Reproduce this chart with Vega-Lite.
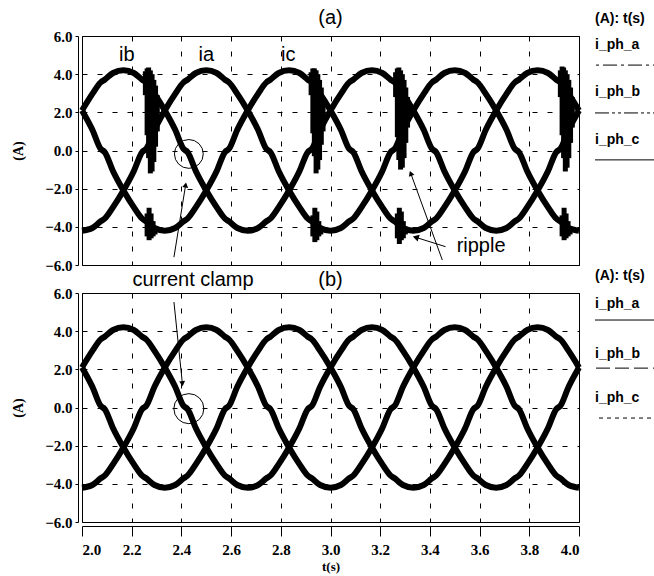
{
  "$schema": "https://vega.github.io/schema/vega-lite/v6.json",
  "background": "white",
  "padding": {"left": 11, "top": 7, "right": 0, "bottom": 0},
  "config": {
    "view": {"stroke": "black", "strokeWidth": 1},
    "font": "Liberation Sans"
  },
  "datasets": {
    "wave": [
      {"t": 2.0000, "a": -4.2, "b": 2.10, "c": 2.10},
      {"t": 2.0417, "a": -4.06, "b": 2.97, "c": 1.09},
      {"t": 2.0753, "a": -3.71, "b": 3.57, "c": 0.08},
      {"t": 2.0913, "a": -3.57, "b": 3.71, "c": -0.08},
      {"t": 2.1250, "a": -2.97, "b": 4.06, "c": -1.09},
      {"t": 2.1667, "a": -2.10, "b": 4.2, "c": -2.10},
      {"t": 2.2083, "a": -1.09, "b": 4.06, "c": -2.97},
      {"t": 2.2420, "a": -0.08, "b": 3.71, "c": -3.57},
      {"t": 2.2580, "a": 0.08, "b": 3.57, "c": -3.71},
      {"t": 2.2917, "a": 1.09, "b": 2.97, "c": -4.06},
      {"t": 2.3333, "a": 2.10, "b": 2.10, "c": -4.2},
      {"t": 2.3750, "a": 2.97, "b": 1.09, "c": -4.06},
      {"t": 2.4087, "a": 3.57, "b": 0.08, "c": -3.71},
      {"t": 2.4247, "a": 3.71, "b": -0.08, "c": -3.57},
      {"t": 2.4583, "a": 4.06, "b": -1.09, "c": -2.97},
      {"t": 2.5000, "a": 4.2, "b": -2.10, "c": -2.10},
      {"t": 2.5417, "a": 4.06, "b": -2.97, "c": -1.09},
      {"t": 2.5753, "a": 3.71, "b": -3.57, "c": -0.08},
      {"t": 2.5913, "a": 3.57, "b": -3.71, "c": 0.08},
      {"t": 2.6250, "a": 2.97, "b": -4.06, "c": 1.09},
      {"t": 2.6667, "a": 2.10, "b": -4.2, "c": 2.10},
      {"t": 2.7083, "a": 1.09, "b": -4.06, "c": 2.97},
      {"t": 2.7420, "a": 0.08, "b": -3.71, "c": 3.57},
      {"t": 2.7580, "a": -0.08, "b": -3.57, "c": 3.71},
      {"t": 2.7917, "a": -1.09, "b": -2.97, "c": 4.06},
      {"t": 2.8333, "a": -2.10, "b": -2.10, "c": 4.2},
      {"t": 2.8750, "a": -2.97, "b": -1.09, "c": 4.06},
      {"t": 2.9087, "a": -3.57, "b": -0.08, "c": 3.71},
      {"t": 2.9247, "a": -3.71, "b": 0.08, "c": 3.57},
      {"t": 2.9583, "a": -4.06, "b": 1.09, "c": 2.97},
      {"t": 3.0000, "a": -4.2, "b": 2.10, "c": 2.10},
      {"t": 3.0417, "a": -4.06, "b": 2.97, "c": 1.09},
      {"t": 3.0753, "a": -3.71, "b": 3.57, "c": 0.08},
      {"t": 3.0913, "a": -3.57, "b": 3.71, "c": -0.08},
      {"t": 3.1250, "a": -2.97, "b": 4.06, "c": -1.09},
      {"t": 3.1667, "a": -2.10, "b": 4.2, "c": -2.10},
      {"t": 3.2083, "a": -1.09, "b": 4.06, "c": -2.97},
      {"t": 3.2420, "a": -0.08, "b": 3.71, "c": -3.57},
      {"t": 3.2580, "a": 0.08, "b": 3.57, "c": -3.71},
      {"t": 3.2917, "a": 1.09, "b": 2.97, "c": -4.06},
      {"t": 3.3333, "a": 2.10, "b": 2.10, "c": -4.2},
      {"t": 3.3750, "a": 2.97, "b": 1.09, "c": -4.06},
      {"t": 3.4087, "a": 3.57, "b": 0.08, "c": -3.71},
      {"t": 3.4247, "a": 3.71, "b": -0.08, "c": -3.57},
      {"t": 3.4583, "a": 4.06, "b": -1.09, "c": -2.97},
      {"t": 3.5000, "a": 4.2, "b": -2.10, "c": -2.10},
      {"t": 3.5417, "a": 4.06, "b": -2.97, "c": -1.09},
      {"t": 3.5753, "a": 3.71, "b": -3.57, "c": -0.08},
      {"t": 3.5913, "a": 3.57, "b": -3.71, "c": 0.08},
      {"t": 3.6250, "a": 2.97, "b": -4.06, "c": 1.09},
      {"t": 3.6667, "a": 2.10, "b": -4.2, "c": 2.10},
      {"t": 3.7083, "a": 1.09, "b": -4.06, "c": 2.97},
      {"t": 3.7420, "a": 0.08, "b": -3.71, "c": 3.57},
      {"t": 3.7580, "a": -0.08, "b": -3.57, "c": 3.71},
      {"t": 3.7917, "a": -1.09, "b": -2.97, "c": 4.06},
      {"t": 3.8333, "a": -2.10, "b": -2.10, "c": 4.2},
      {"t": 3.8750, "a": -2.97, "b": -1.09, "c": 4.06},
      {"t": 3.9087, "a": -3.57, "b": -0.08, "c": 3.71},
      {"t": 3.9247, "a": -3.71, "b": 0.08, "c": 3.57},
      {"t": 3.9583, "a": -4.06, "b": 1.09, "c": 2.97},
      {"t": 4.0000, "a": -4.2, "b": 2.10, "c": 2.10}
    ],
    "ripple": [
      {"t": 2.255, "y": 2.9, "y2": 4.15}, {"t": 2.262, "y": 0.8, "y2": 4.3}, {"t": 2.268, "y": -0.4, "y2": 4.35}, {"t": 2.275, "y": -1.2, "y2": 4.2},
      {"t": 2.282, "y": -1.1, "y2": 4.0}, {"t": 2.289, "y": -0.6, "y2": 3.7}, {"t": 2.296, "y": 0.2, "y2": 3.4}, {"t": 2.303, "y": 1.0, "y2": 2.9},
      {"t": 2.262, "y": -4.5, "y2": -3.3}, {"t": 2.270, "y": -4.7, "y2": -3.0}, {"t": 2.278, "y": -4.6, "y2": -3.3}, {"t": 2.286, "y": -4.5, "y2": -3.7}, {"t": 2.294, "y": -4.4, "y2": -4.0},
      {"t": 2.922, "y": 2.9, "y2": 4.1}, {"t": 2.929, "y": 0.9, "y2": 4.3}, {"t": 2.935, "y": -0.3, "y2": 4.3}, {"t": 2.942, "y": -1.2, "y2": 4.2},
      {"t": 2.949, "y": -1.0, "y2": 4.0}, {"t": 2.956, "y": -0.5, "y2": 3.7}, {"t": 2.963, "y": 0.3, "y2": 3.3}, {"t": 2.970, "y": 1.0, "y2": 2.8},
      {"t": 2.929, "y": -4.5, "y2": -3.4}, {"t": 2.937, "y": -4.8, "y2": -3.0}, {"t": 2.945, "y": -4.7, "y2": -3.2}, {"t": 2.953, "y": -4.5, "y2": -3.7}, {"t": 2.961, "y": -4.4, "y2": -4.0},
      {"t": 3.262, "y": 2.8, "y2": 4.1}, {"t": 3.269, "y": 0.7, "y2": 4.3}, {"t": 3.275, "y": -0.5, "y2": 4.35}, {"t": 3.282, "y": -1.0, "y2": 4.2},
      {"t": 3.289, "y": -0.9, "y2": 4.0}, {"t": 3.296, "y": -0.4, "y2": 3.7}, {"t": 3.303, "y": 0.4, "y2": 3.3}, {"t": 3.310, "y": 1.2, "y2": 2.8},
      {"t": 3.269, "y": -4.6, "y2": -3.3}, {"t": 3.277, "y": -4.9, "y2": -3.0}, {"t": 3.285, "y": -4.7, "y2": -3.2}, {"t": 3.293, "y": -4.6, "y2": -3.7}, {"t": 3.301, "y": -4.4, "y2": -4.0},
      {"t": 3.925, "y": 2.8, "y2": 4.2}, {"t": 3.932, "y": 0.8, "y2": 4.4}, {"t": 3.938, "y": -0.4, "y2": 4.35}, {"t": 3.945, "y": -1.1, "y2": 4.2},
      {"t": 3.952, "y": -0.9, "y2": 4.0}, {"t": 3.959, "y": -0.4, "y2": 3.7}, {"t": 3.966, "y": 0.4, "y2": 3.3}, {"t": 3.973, "y": 1.2, "y2": 2.8},
      {"t": 3.932, "y": -4.5, "y2": -3.4}, {"t": 3.940, "y": -4.7, "y2": -3.0}, {"t": 3.948, "y": -4.6, "y2": -3.3}, {"t": 3.956, "y": -4.5, "y2": -3.7}, {"t": 3.964, "y": -4.4, "y2": -4.0}
    ],
    "notes": [
      {"panel": "a", "text": "ib", "t": 2.18, "y": 5.0},
      {"panel": "a", "text": "ia", "t": 2.5, "y": 5.0},
      {"panel": "a", "text": "ic", "t": 2.83, "y": 5.0},
      {"panel": "a", "text": "ripple", "t": 3.606, "y": -4.98},
      {"panel": "a", "text": "current clamp", "t": 2.447, "y": -6.79}
    ],
    "circles": [
      {"panel": "a", "t": 2.43, "y": -0.18},
      {"panel": "b", "t": 2.43, "y": -0.06}
    ],
    "arrows": [
      {"panel": "a", "t": 2.37, "y": -5.59, "t2": 2.417, "y2": -1.81},
      {"panel": "a", "t": 3.45, "y": -5.74, "t2": 3.323, "y2": -1.2},
      {"panel": "a", "t": 3.463, "y": -5.04, "t2": 3.343, "y2": -4.55},
      {"panel": "b", "t": 2.37, "y": 5.53, "t2": 2.404, "y2": 1.25}
    ],
    "heads": [
      {"id": "a1", "t": 2.417, "y": -1.81},
      {"id": "r1", "t": 3.323, "y": -1.2},
      {"id": "r2", "t": 3.343, "y": -4.55},
      {"id": "b1", "t": 2.404, "y": 1.25}
    ],
    "legendText": [
      {"panel": "a", "text": "(A): t(s)", "pos": -0.74},
      {"panel": "a", "text": "i_ph_a", "pos": 0.39},
      {"panel": "a", "text": "i_ph_b", "pos": 2.45},
      {"panel": "a", "text": "i_ph_c", "pos": 4.54},
      {"panel": "b", "text": "(A): t(s)", "pos": -0.74},
      {"panel": "b", "text": "i_ph_a", "pos": 0.48},
      {"panel": "b", "text": "i_ph_b", "pos": 2.66},
      {"panel": "b", "text": "i_ph_c", "pos": 4.59}
    ],
    "legendLines": [
      {"panel": "a", "item": "i_ph_a", "pos": 1.27},
      {"panel": "a", "item": "i_ph_b", "pos": 3.36},
      {"panel": "a", "item": "i_ph_c", "pos": 5.41},
      {"panel": "b", "item": "i_ph_a", "pos": 1.18},
      {"panel": "b", "item": "i_ph_b", "pos": 3.28},
      {"panel": "b", "item": "i_ph_c", "pos": 5.46}
    ]
  },
  "spacing": 2,
  "hconcat": [
    {
      "bounds": "flush",
      "spacing": 28,
      "vconcat": [
        {
          "width": 497,
          "height": 229,
          "title": {"text": "(a)", "font": "Liberation Sans", "fontSize": 20, "fontWeight": "normal", "offset": 1, "anchor": "middle", "color": "black"},
          "encoding": {
            "x": {"field": "t", "type": "quantitative", "scale": {"domain": [2, 4], "nice": false, "zero": false},
              "axis": {"title": null, "labels": false, "ticks": false, "domain": false, "values": [2, 2.2, 2.4, 2.6, 2.8, 3, 3.2, 3.4, 3.6, 3.8, 4],
                "grid": true, "gridColor": "black", "gridDash": [5, 10], "gridOpacity": 1, "gridWidth": 1}},
            "y": {"field": "y", "type": "quantitative", "scale": {"domain": [-6, 6], "nice": false, "zero": false},
              "axis": {"title": "(A)", "titleFont": "Liberation Serif", "titleFontWeight": "bold", "titleFontSize": 14, "titleColor": "black", "titlePadding": 19,
                "values": [-6, -4, -2, 0, 2, 4, 6], "format": ".1f", "labelFont": "Liberation Serif", "labelFontWeight": "bold", "labelFontSize": 15, "labelColor": "black", "labelPadding": 3,
                "ticks": true, "tickSize": 3, "tickColor": "black", "domain": true, "domainColor": "black", "offset": 4,
                "grid": true, "gridColor": "black", "gridDash": [5, 10], "gridOpacity": 1, "gridWidth": 1}}
          },
          "layer": [
            {
              "data": {"name": "wave"},
              "transform": [{"fold": ["a", "b", "c"], "as": ["phase", "y"]}],
              "mark": {"type": "line", "interpolate": "monotone", "strokeWidth": 6, "color": "black"},
              "encoding": {"detail": {"field": "phase"}}
            },
            {
              "data": {"name": "ripple"},
              "mark": {"type": "rule", "strokeWidth": 5, "color": "black"},
              "encoding": {"y2": {"field": "y2"}}
            },
            {
              "data": {"name": "notes"},
              "transform": [{"filter": "datum.panel === 'a'"}],
              "mark": {"type": "text", "font": "Liberation Sans", "fontSize": 20, "align": "center", "baseline": "middle", "color": "black"},
              "encoding": {"text": {"field": "text"}}
            },
            {
              "data": {"name": "circles"},
              "transform": [{"filter": "datum.panel === 'a'"}],
              "mark": {"type": "point", "shape": "circle", "size": 830, "filled": false, "stroke": "black", "strokeWidth": 1, "opacity": 1}
            },
            {
              "data": {"name": "arrows"},
              "transform": [{"filter": "datum.panel === 'a'"}],
              "mark": {"type": "rule", "strokeWidth": 1, "color": "black"},
              "encoding": {"x2": {"field": "t2"}, "y2": {"field": "y2"}}
            },
            {
              "data": {"name": "heads"},
              "transform": [{"filter": "datum.id === 'a1'"}],
              "mark": {"type": "point", "shape": "triangle-up", "size": 35, "filled": true, "color": "black", "opacity": 1, "angle": 9}
            },
            {
              "data": {"name": "heads"},
              "transform": [{"filter": "datum.id === 'r1'"}],
              "mark": {"type": "point", "shape": "triangle-up", "size": 35, "filled": true, "color": "black", "opacity": 1, "angle": 340}
            },
            {
              "data": {"name": "heads"},
              "transform": [{"filter": "datum.id === 'r2'"}],
              "mark": {"type": "point", "shape": "triangle-up", "size": 50, "filled": true, "color": "black", "opacity": 1, "angle": 287}
            }
          ]
        },
        {
          "width": 497,
          "height": 229,
          "title": {"text": "(b)", "font": "Liberation Sans", "fontSize": 20, "fontWeight": "normal", "offset": -4, "anchor": "middle", "color": "black"},
          "encoding": {
            "x": {"field": "t", "type": "quantitative", "scale": {"domain": [2, 4], "nice": false, "zero": false},
              "axis": {"title": "t(s)", "titleFont": "Liberation Serif", "titleFontWeight": "bold", "titleFontSize": 13, "titleColor": "black", "titlePadding": 3,
                "values": [2, 2.2, 2.4, 2.6, 2.8, 3, 3.2, 3.4, 3.6, 3.8, 4], "format": ".1f",
                "labelFont": "Liberation Serif", "labelFontWeight": "bold", "labelFontSize": 15, "labelColor": "black", "labelPadding": 6,
                "ticks": true, "tickSize": 10, "tickColor": "black", "domain": true, "domainColor": "black", "offset": 4,
                "grid": true, "gridColor": "black", "gridDash": [5, 10], "gridOpacity": 1, "gridWidth": 1}},
            "y": {"field": "y", "type": "quantitative", "scale": {"domain": [-6, 6], "nice": false, "zero": false},
              "axis": {"title": "(A)", "titleFont": "Liberation Serif", "titleFontWeight": "bold", "titleFontSize": 14, "titleColor": "black", "titlePadding": 19,
                "values": [-6, -4, -2, 0, 2, 4, 6], "format": ".1f", "labelFont": "Liberation Serif", "labelFontWeight": "bold", "labelFontSize": 15, "labelColor": "black", "labelPadding": 3,
                "ticks": true, "tickSize": 3, "tickColor": "black", "domain": true, "domainColor": "black", "offset": 4,
                "grid": true, "gridColor": "black", "gridDash": [5, 10], "gridOpacity": 1, "gridWidth": 1}}
          },
          "layer": [
            {
              "data": {"name": "wave"},
              "transform": [{"fold": ["a", "b", "c"], "as": ["phase", "y"]}],
              "mark": {"type": "line", "interpolate": "monotone", "strokeWidth": 6, "color": "black"},
              "encoding": {"detail": {"field": "phase"}}
            },
            {
              "data": {"name": "circles"},
              "transform": [{"filter": "datum.panel === 'b'"}],
              "mark": {"type": "point", "shape": "circle", "size": 900, "filled": false, "stroke": "black", "strokeWidth": 1, "opacity": 1}
            },
            {
              "data": {"name": "arrows"},
              "transform": [{"filter": "datum.panel === 'b'"}],
              "mark": {"type": "rule", "strokeWidth": 1, "color": "black"},
              "encoding": {"x2": {"field": "t2"}, "y2": {"field": "y2"}}
            },
            {
              "data": {"name": "heads"},
              "transform": [{"filter": "datum.id === 'b1'"}],
              "mark": {"type": "point", "shape": "triangle-up", "size": 35, "filled": true, "color": "black", "opacity": 1, "angle": 174}
            }
          ]
        }
      ]
    },
    {
      "bounds": "flush",
      "spacing": 28,
      "resolve": {"scale": {"strokeDash": "independent", "y": "independent", "x": "independent"}},
      "vconcat": [
        {
          "width": 72,
          "height": 229,
          "view": {"stroke": null},
          "encoding": {
            "y": {"field": "pos", "type": "quantitative", "scale": {"domain": [0, 10], "reverse": true, "nice": false, "zero": false}, "axis": null}
          },
          "layer": [
            {
              "data": {"name": "legendText"},
              "transform": [{"filter": "datum.panel === 'a'"}],
              "mark": {"type": "text", "font": "Liberation Sans", "fontWeight": "bold", "fontSize": 14, "align": "left", "baseline": "middle", "color": "black"},
              "encoding": {
                "x": {"datum": 0, "type": "quantitative", "scale": {"domain": [0, 1]}, "axis": null},
                "text": {"field": "text"}
              }
            },
            {
              "data": {"name": "legendLines"},
              "transform": [{"filter": "datum.panel === 'a'"}],
              "mark": {"type": "rule", "strokeWidth": 1, "color": "black"},
              "encoding": {
                "strokeDash": {"field": "item", "type": "nominal", "scale": {"domain": ["i_ph_a", "i_ph_b", "i_ph_c"], "range": [[14, 4, 3, 4], [14, 3, 3, 3, 3, 3], [1, 0]]}, "legend": null}
              }
            }
          ]
        },
        {
          "width": 72,
          "height": 229,
          "view": {"stroke": null},
          "encoding": {
            "y": {"field": "pos", "type": "quantitative", "scale": {"domain": [0, 10], "reverse": true, "nice": false, "zero": false}, "axis": null}
          },
          "layer": [
            {
              "data": {"name": "legendText"},
              "transform": [{"filter": "datum.panel === 'b'"}],
              "mark": {"type": "text", "font": "Liberation Sans", "fontWeight": "bold", "fontSize": 14, "align": "left", "baseline": "middle", "color": "black"},
              "encoding": {
                "x": {"datum": 0, "type": "quantitative", "scale": {"domain": [0, 1]}, "axis": null},
                "text": {"field": "text"}
              }
            },
            {
              "data": {"name": "legendLines"},
              "transform": [{"filter": "datum.panel === 'b'"}],
              "mark": {"type": "rule", "strokeWidth": 1, "color": "black"},
              "encoding": {
                "strokeDash": {"field": "item", "type": "nominal", "scale": {"domain": ["i_ph_a", "i_ph_b", "i_ph_c"], "range": [[1, 0], [14, 5], [4, 4]]}, "legend": null}
              }
            }
          ]
        }
      ]
    }
  ]
}
